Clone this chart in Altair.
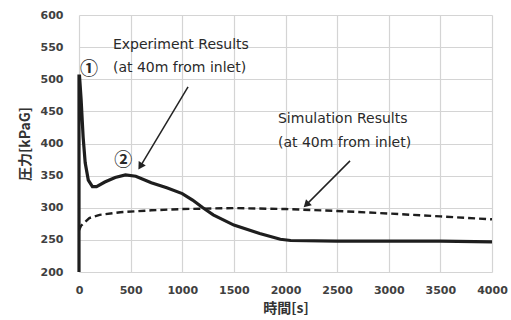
import altair as alt
import pandas as pd

# Experiment results (time s, pressure kPaG)
exp_t = [0, 0, 5, 20, 40, 60, 90, 130, 170, 250, 350, 450, 550, 700, 850, 1000, 1100, 1200, 1300, 1500, 1750, 1950, 2050, 2500, 3000, 3500, 4000]
exp_p = [200, 505, 505, 470, 410, 370, 343, 333, 333, 340, 347, 351, 349, 339, 331, 322, 312, 300, 289, 273, 260, 251, 249, 248, 248, 248, 247]

# Simulation results
sim_t = [0, 20, 100, 200, 400, 700, 1000, 1500, 2000, 2500, 3000, 3500, 4000]
sim_p = [265, 272, 284, 289, 293, 296, 298, 299.5, 298, 295, 291, 286.5, 282]

# Annotation texts (label, x, y)
ann_text = ["Experiment Results", "(at 40m from inlet)", "Simulation Results", "(at 40m from inlet)"]
ann_x = [329, 329, 1927, 1927]
ann_y = [553, 517.5, 438, 401]

mark_text = ["①", "②"]
mark_x = [97, 429]
mark_y = [514, 372]

# Arrows: start -> end
arr_id = ["a1", "a1", "a2", "a2"]
arr_x = [1056, 600, 2625, 2210]
arr_y = [488, 366, 373, 306]
head_x = [600, 2210]
head_y = [366, 306]
head_angle = [212, 226]

x_ticks = list(range(0, 4001, 500))
y_ticks = list(range(200, 601, 50))

exp_df = pd.DataFrame({"t": exp_t, "p": exp_p, "i": list(range(len(exp_t)))})
sim_df = pd.DataFrame({"t": sim_t, "p": sim_p})
ann_df = pd.DataFrame({"label": ann_text, "t": ann_x, "p": ann_y})
mk_df = pd.DataFrame({"label": mark_text, "t": mark_x, "p": mark_y})
arr_df = pd.DataFrame({"id": arr_id, "t": arr_x, "p": arr_y})
head_df = pd.DataFrame({"t": head_x, "p": head_y, "a": head_angle})

xs = alt.Scale(domain=[0, 4000], nice=False)
ys = alt.Scale(domain=[200, 600], nice=False)

X = alt.X("t:Q", scale=xs, title="時間[s]",
          axis=alt.Axis(values=x_ticks, format="d", grid=True, domain=False, ticks=False,
                        labelOverlap=False, labelFlush=False,
                        labelPadding=12, titlePadding=6))
Y = alt.Y("p:Q", scale=ys, title="圧力[kPaG]",
          axis=alt.Axis(values=y_ticks, format="d", grid=True, domain=False, ticks=False,
                        labelOverlap=False, labelFlush=False,
                        labelPadding=16, titlePadding=8))

exp_line = alt.Chart(exp_df).mark_line(color="#1e1e1e", strokeWidth=3.2).encode(
    x=X, y=Y, order="i:Q")
sim_line = alt.Chart(sim_df).mark_line(color="#1e1e1e", strokeWidth=2.4, strokeDash=[7, 4]).encode(
    x=X, y=Y)
arrows = alt.Chart(arr_df).mark_line(color="#222222", strokeWidth=1.5).encode(
    x=X, y=Y, detail="id:N")
heads = alt.Chart(head_df).mark_point(shape="triangle", filled=True, color="#222222", size=70, opacity=1).encode(
    x=X, y=Y, angle=alt.Angle("a:Q", scale=None))
texts = alt.Chart(ann_df).mark_text(align="left", baseline="middle", font="DejaVu Sans", fontSize=14,
                                    color="#2a2a2a").encode(
    x=X, y=Y, text="label:N")
marks = alt.Chart(mk_df).mark_text(align="center", baseline="middle", font="Noto Sans CJK JP", fontSize=18,
                                   fontWeight="bold", color="#2a2a2a").encode(
    x=X, y=Y, text="label:N")

chart = alt.layer(exp_line, sim_line, arrows, heads, texts, marks).properties(
    width=413, height=257,
    autosize=alt.AutoSizeParams(type="none"),
    padding={"left": 79, "top": 15, "right": 19, "bottom": 48},
    background="white",
).configure_view(stroke=None).configure_axis(
    gridColor="#d4d4d4", gridWidth=1.2,
    labelFont="DejaVu Sans", labelFontWeight="bold", labelFontSize=11, labelColor="#404040",
    titleFont="Noto Sans CJK JP", titleFontWeight="bold", titleFontSize=14, titleColor="#333333",
)

chart.save("out.html", embed_options={"renderer": "svg", "actions": False})
